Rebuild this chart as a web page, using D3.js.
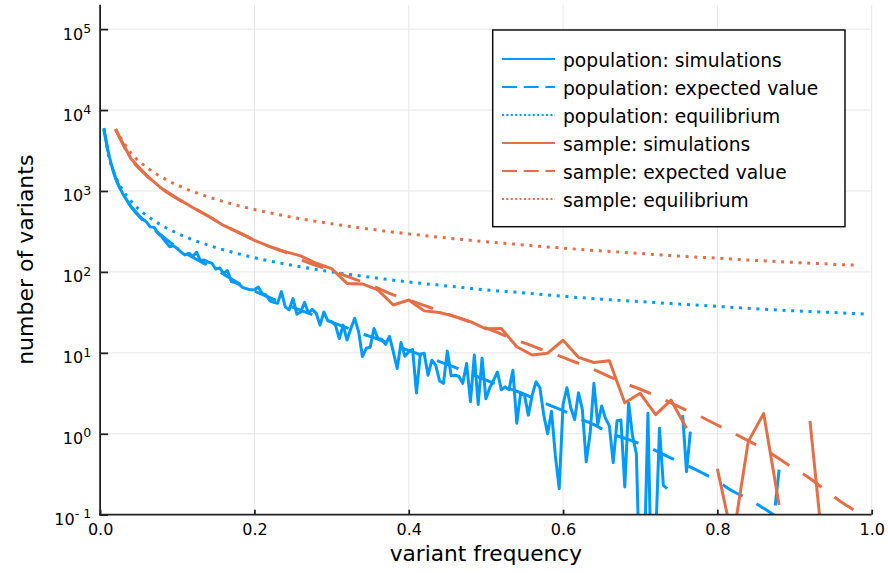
<!DOCTYPE html>
<html><head><meta charset="utf-8">
<script src="https://cdn.jsdelivr.net/npm/d3@7"></script>
<style>
body{margin:0;background:#fff}
svg{display:block}
text{font-family:"DejaVu Sans",sans-serif;fill:#000}
</style>
</head><body>
<svg id="chart" width="888" height="573"></svg>
<script>
// ---------------- DATA ----------------
const seriesNames = ["population: simulations","population: expected value","population: equilibrium",
                     "sample: simulations","sample: expected value","sample: equilibrium"];
const xTickValues = [0, 0.2, 0.4, 0.6, 0.8, 1.0];
const xTickLabels = ["0.0","0.2","0.4","0.6","0.8","1.0"];
const yTickExponents = [-1, 0, 1, 2, 3, 4, 5];

// population simulations, frequencies 0.005, 0.010, ... 0.880 (null = zero count)
const popSimValues = [
 5800,3200,2050,1450,1120,900,760,640,570,500,
 450,415,360,355,300,272,235,205,210,195,
 175,162,170,155,175,138,140,132,128,108,
 112,96,104,76,74,70,64,62,60,60,
 65,54,52,44,42,41,57,37,34,47,
 30,32,42,31,34.5,31,22,32,25,24.3,
 22,15,22,14.4,20,26.7,18.3,9,11.4,11.7,
 20,15,14.7,12.7,16,10.3,6.4,13.4,9.1,10.3,
 11,3.2,9.7,9.9,5.3,8.1,7,4.5,4.2,10.5,
 5.2,5.3,5.1,4.2,7.4,2.5,9.4,2.3,8.6,2.7,
 3.7,4.6,5.8,3.5,3.8,3.5,6.1,1.35,3.16,3.0,
 1.7,3.0,4.4,3.7,1.7,1.0,1.9,0.54,0.21,2.3,
 3.7,2.1,1.5,3.2,2.0,0.45,1.0,4.2,1.3,2.2,
 1.55,1.25,0.44,1.45,1.48,0.22,2.4,0.95,0.57,0.01,
 0.02,1.79,0.008,0.05,1.17,0.23,0.21,null,null,null,
 1.7,0.34,1.06,null,null,null,null,null,null,null,
 null,null,null,null,null,null,null,null,null,null,
 null,null,null,null,0.13,0.36
];
const popExpX = [0.005,0.01,0.02,0.03,0.04,0.05,0.06,0.08,0.10,0.12,0.14,0.16,0.18,0.20,0.22,0.24,0.26,0.28,0.30,
 0.32,0.34,0.36,0.38,0.40,0.42,0.44,0.46,0.48,0.50,0.52,0.54,0.56,0.58,0.60,0.62,0.64,0.66,0.68,0.70,0.72,
 0.74,0.76,0.78,0.80,0.82,0.84,0.86,0.88,0.90];
const popExpValues = [5800,3200,1450,900,640,490,400,280,200,152,120,94,72,58,48,40,33.5,28.5,24,
 20.3,17.2,14.8,12.5,10.7,9.1,7.8,6.6,5.5,4.6,3.9,3.35,2.8,2.3,1.93,1.55,1.3,1.02,0.88,0.75,0.62,
 0.5,0.41,0.33,0.26,0.195,0.157,0.12,0.09,0.07];
const popEqX = [0.005,0.01,0.015,0.02,0.03,0.04,0.05,0.06,0.08,0.10,0.12,0.15,0.20,0.25,0.30,0.35,0.40,0.45,
 0.50,0.55,0.60,0.65,0.70,0.75,0.80,0.85,0.90,0.95,0.995];
const popEqValues = [6000,3000,2000,1500,1000,750,600,500,375,300,250,200,150,120,100,86,75,67,
 60,55,50,46,43,40,37.5,35,33,31.5,30];

// sample: frequencies 0.02, 0.04, ... 0.98
const sampleSimValues = [5800,2500,1560,1070,810,625,490,375,305,245,
 205,178,158,128,110,72,71,60,39,45,
 33,31.5,28,24.3,19.8,20,11.9,9.4,9.9,14.3,
 8.8,7.6,8.0,2.42,3.16,1.72,2.6,1.17,null,0.37,
 0.048,0.8,1.78,0.132,null,1.44,0.019,null,null];
const sampleExpValues = [5800,2500,1560,1070,800,625,490,380,305,248,
 205,175,142,120,104,88,75,63,52,45,
 38.5,33,28,24,20.3,17,14.3,12.2,10.3,8.8,
 7.4,6.2,5.1,4.2,3.55,2.95,2.4,1.95,1.6,1.28,
 1.03,0.82,0.65,0.49,0.37,0.28,0.2,0.145,0.11];
const sampleEqValues = [5800,2950,1970,1480,1180,985,845,740,655,590,
 537,492,454,421,393,369,347,328,310,295,
 281,268,257,246,236,227,219,211,203,197,
 190,184,179,174,169,164,159,155,151,148,
 144,140,137,134,131,128,126,123,121];

// ---------------- CHART ----------------
const BLUE = "#009AFA", ORANGE = "#E36F47";
const TICKFONT = "Liberation Sans";
const svg = d3.select("#chart");
const L = 100.1, R = 871.7, T = 4.75, B = 514.7;
const x = d3.scaleLinear().domain([0, 1]).range([L, R]);
const y = d3.scaleLog().domain([0.1, 2e5]).range([B, T]);

svg.append("defs").append("clipPath").attr("id","plotclip")
  .append("rect").attr("x",L).attr("y",T).attr("width",R-L).attr("height",B-T);

// grid
const grid = svg.append("g");
grid.selectAll("line.vx").data(xTickValues).join("line")
  .attr("x1",d=>x(d)).attr("x2",d=>x(d)).attr("y1",T).attr("y2",B)
  .attr("stroke","#e6e6e6").attr("stroke-width",1);
grid.selectAll("line.hy").data(yTickExponents).join("line")
  .attr("x1",L).attr("x2",R).attr("y1",d=>y(Math.pow(10,d))).attr("y2",d=>y(Math.pow(10,d)))
  .attr("stroke","#e6e6e6").attr("stroke-width",1);

// series
const toPts = (xs, vs) => vs.map((v,i)=>({x: xs[i], v: v}));
const popSimX = popSimValues.map((v,i)=>(i+1)/200);
const sampleX = sampleSimValues.map((v,i)=>(i+1)/50);

const lineLin = d3.line().defined(d=>d.v!=null && d.v>0).x(d=>x(d.x)).y(d=>y(d.v));
const lineSmooth = d3.line().defined(d=>d.v!=null && d.v>0).x(d=>x(d.x)).y(d=>y(d.v)).curve(d3.curveMonotoneX);

const series = [
  {pts: toPts(popSimX, popSimValues), color: BLUE, dash: null, gen: lineLin},
  {pts: toPts(popExpX, popExpValues), color: BLUE, dash: "23 16", gen: lineSmooth},
  {pts: toPts(popEqX, popEqValues), color: BLUE, dash: "3 5.7", gen: lineSmooth},
  {pts: toPts(sampleX, sampleSimValues), color: ORANGE, dash: null, gen: lineLin},
  {pts: toPts(sampleX, sampleExpValues), color: ORANGE, dash: "23 16", gen: lineSmooth},
  {pts: toPts(sampleX, sampleEqValues), color: ORANGE, dash: "3 5.7", gen: lineSmooth}
];
const plotG = svg.append("g").attr("clip-path","url(#plotclip)");
series.forEach(s=>{
  plotG.append("path").attr("d", s.gen(s.pts)).attr("fill","none")
    .attr("stroke", s.color).attr("stroke-width", 3)
    .attr("stroke-linejoin","round")
    .attr("stroke-dasharray", s.dash);
});

// axes
const AX = "#222";
const xAxis = d3.axisBottom(x).tickValues(xTickValues).tickSize(-5).tickPadding(8.9)
  .tickFormat((d,i)=>xTickLabels[i]);
const gx = svg.append("g").attr("transform",`translate(0,${B})`).call(xAxis);
gx.select(".domain").remove();
gx.selectAll(".tick line").attr("stroke",AX).attr("stroke-width",1.8);
gx.selectAll(".tick text").attr("font-size",16).attr("font-family",TICKFONT).attr("fill","#000");

const yAxis = d3.axisLeft(y).tickValues(yTickExponents.map(e=>Math.pow(10,e))).tickSize(-8).tickPadding(9)
  .tickFormat(()=> "");
const gy = svg.append("g").attr("transform",`translate(${L},0)`).call(yAxis);
gy.select(".domain").remove();
gy.selectAll(".tick line").attr("stroke",AX).attr("stroke-width",1.8);
gy.selectAll(".tick text").each(function(d){
  const t = d3.select(this);
  const e = Math.round(Math.log10(d));
  t.attr("dy", null).attr("y", 10).attr("font-family",TICKFONT).attr("fill","#000");
  t.append("tspan").attr("font-size",16).text("10");
  t.append("tspan").attr("font-size",12.5).attr("dy",-6.8).text(e < 0 ? "- " + Math.abs(e) : String(e));
});

// axis lines
svg.append("line").attr("x1",L).attr("x2",L).attr("y1",T).attr("y2",B+0.9).attr("stroke",AX).attr("stroke-width",1.8);
svg.append("line").attr("x1",L-0.9).attr("x2",R).attr("y1",B).attr("y2",B).attr("stroke",AX).attr("stroke-width",1.8);

// axis titles
svg.append("text").attr("x",(L+R)/2).attr("y",561).attr("text-anchor","middle")
  .attr("font-size",21.7).text("variant frequency");
svg.append("text").attr("transform",`translate(33,${(T+B)/2}) rotate(-90)`).attr("text-anchor","middle")
  .attr("font-size",22).text("number of variants");

// legend
const lg = svg.append("g");
lg.append("rect").attr("x",492.7).attr("y",30).attr("width",352.3).attr("height",196.7)
  .attr("fill","#fff").attr("stroke","#111").attr("stroke-width",1.5);
const legendDash = [null,"15 6.7","2 2.4",null,"15 6.7","2 2.4"];
seriesNames.forEach((name,i)=>{
  const cy = 59 + 28*i;
  lg.append("line").attr("x1",502).attr("x2",555).attr("y1",cy).attr("y2",cy)
    .attr("stroke", series[i].color).attr("stroke-width",1.8).attr("stroke-dasharray",legendDash[i]);
  lg.append("text").attr("x",563).attr("y",cy+7.5).attr("font-size",18.7).text(name);
});
</script>
</body></html>
